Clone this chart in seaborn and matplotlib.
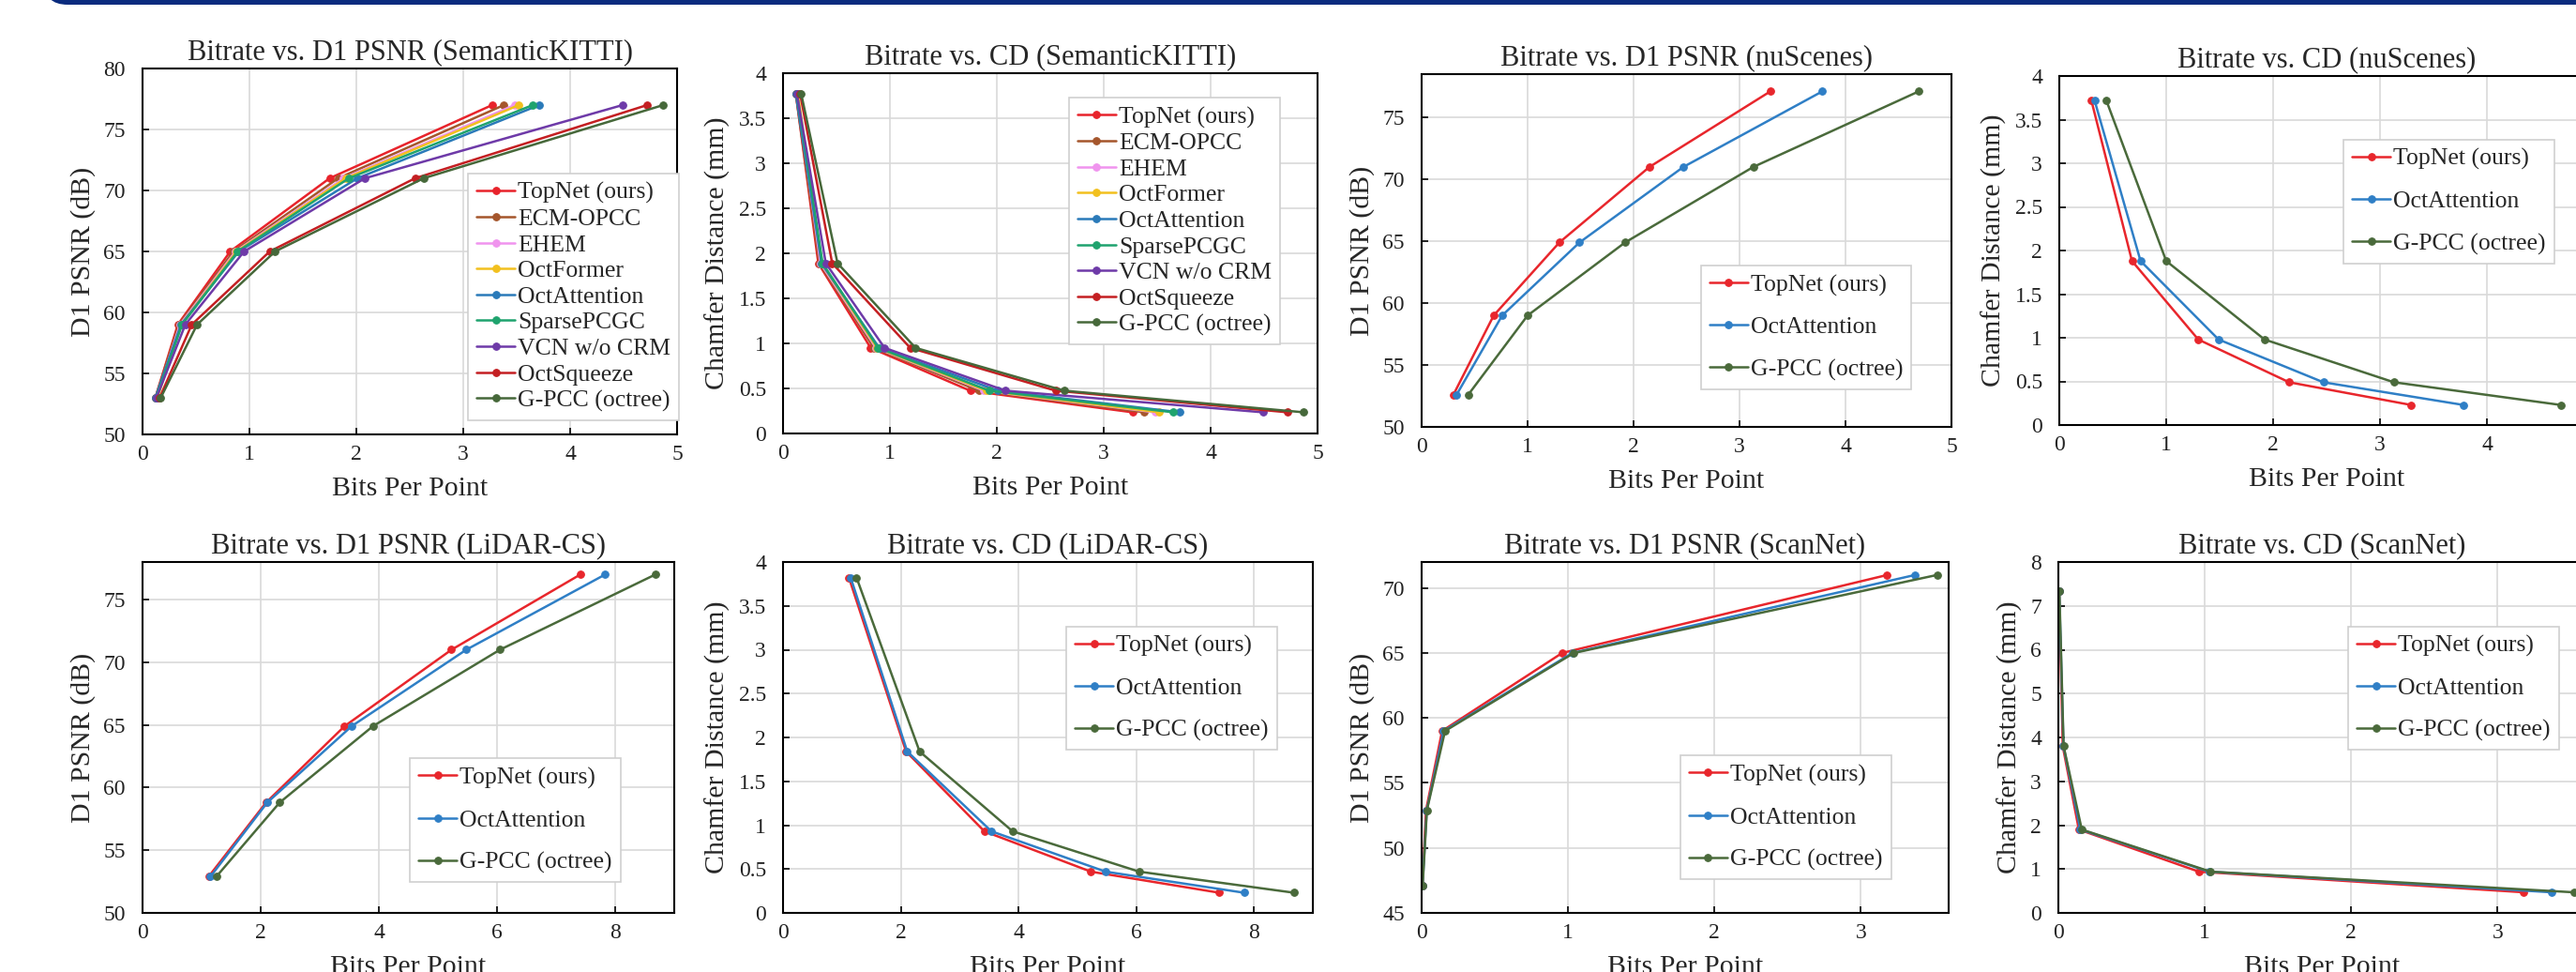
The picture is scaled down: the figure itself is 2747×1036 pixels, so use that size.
import seaborn as sns
import matplotlib.pyplot as plt
from matplotlib.patches import FancyBboxPatch
from matplotlib.transforms import IdentityTransform
from matplotlib.ticker import FuncFormatter

# ---------------- data ----------------
kitti_methods = ['TopNet (ours)', 'ECM-OPCC', 'EHEM', 'OctFormer', 'OctAttention',
                 'SparsePCGC', 'VCN w/o CRM', 'OctSqueeze', 'G-PCC (octree)']
kitti_psnr = [53, 59, 65, 71, 77]
kitti_cd = [3.77, 1.89, 0.95, 0.475, 0.235]
kitti_bpp_topnet = [0.12, 0.33, 0.82, 1.75, 3.27]
kitti_bpp_ecm = [0.12, 0.34, 0.85, 1.83, 3.38]
kitti_bpp_ehem = [0.13, 0.35, 0.87, 1.88, 3.48]
kitti_bpp_octformer = [0.14, 0.36, 0.88, 1.90, 3.52]
kitti_bpp_octattn = [0.12, 0.36, 0.90, 2.01, 3.71]
kitti_bpp_sparse = [0.13, 0.37, 0.89, 1.93, 3.65]
kitti_bpp_vcn = [0.13, 0.40, 0.95, 2.08, 4.49]
kitti_bpp_octsqueeze = [0.16, 0.46, 1.19, 2.55, 4.72]
kitti_bpp_gpcc = [0.17, 0.51, 1.24, 2.63, 4.87]

three_methods = ['TopNet (ours)', 'OctAttention', 'G-PCC (octree)']

nus_psnr = [52.6, 59.0, 64.9, 71.0, 77.1]
nus_cd = [3.72, 1.88, 0.98, 0.49, 0.23]
nus_bpp_topnet = [0.30, 0.68, 1.30, 2.15, 3.29]
nus_bpp_octattn = [0.33, 0.76, 1.49, 2.47, 3.78]
nus_bpp_gpcc = [0.44, 1.00, 1.92, 3.13, 4.69]

lcs_psnr = [52.9, 58.8, 64.9, 71.0, 77.0]
lcs_cd = [3.82, 1.84, 0.93, 0.47, 0.23]
lcs_bpp_topnet = [1.12, 2.09, 3.42, 5.23, 7.41]
lcs_bpp_octattn = [1.15, 2.11, 3.54, 5.48, 7.83]
lcs_bpp_gpcc = [1.25, 2.32, 3.90, 6.05, 8.68]

scan_psnr = [47.1, 52.9, 59.0, 65.0, 71.0]
scan_cd = [7.33, 3.80, 1.90, 0.94, 0.47]
scan_bpp_topnet = [0.005, 0.03, 0.14, 0.96, 3.18]
scan_bpp_octattn = [0.006, 0.035, 0.15, 1.03, 3.37]
scan_bpp_gpcc = [0.007, 0.036, 0.16, 1.04, 3.52]

# ---------------- styling ----------------
kitti_colors = ['#e8232b', '#a5562c', '#f094ee', '#f2c01e', '#2a7ab9',
                '#1fa36e', '#6e3aa8', '#c41f22', '#46683a']
three_colors = ['#e8262c', '#2f7fc6', '#4a6a3b']

sns.set_style('whitegrid', {'grid.color': '#d9d9d9', 'axes.edgecolor': 'black'})
plt.rcParams['font.family'] = ['Liberation Serif', 'DejaVu Serif']

W, H = 2747, 1036
fig = plt.figure(figsize=(W / 100, H / 100), dpi=100)

# top banner (bottom edge of a rounded box from the page)
fig.add_artist(FancyBboxPatch((47, H - 5), 2900, 200,
                              boxstyle='round,pad=0,rounding_size=25',
                              transform=IdentityTransform(),
                              fc='#0a2b7e', ec='none'))

fmt = FuncFormatter(lambda v, p: f'{v:g}')


def panel(box, title, ylabel, xlim, xticks, ylim, yticks, series, names, colors,
          leg_anchor, leg_spacing):
    l, r, t, b = box
    ax = fig.add_axes([l / W, 1 - b / H, (r - l) / W, (b - t) / H])
    for (xs, ys), name, c in zip(series, names, colors):
        sns.lineplot(x=xs, y=ys, ax=ax, color=c, marker='o', markersize=5.5,
                     markeredgecolor=c, linewidth=1.8, label=name, sort=False)
    ax.set_xlim(*xlim)
    ax.set_ylim(*ylim)
    ax.set_xticks(xticks)
    ax.set_yticks(yticks)
    ax.xaxis.set_major_formatter(fmt)
    ax.yaxis.set_major_formatter(fmt)
    ax.tick_params(direction='in', length=5, width=1.2, color='black',
                   labelsize=17, labelcolor='#222222')
    ax.tick_params(axis='x', pad=8, bottom=True)
    ax.tick_params(axis='y', pad=13, left=True)
    ax.grid(True, color='#d9d9d9', linewidth=1.2)
    for s in ax.spines.values():
        s.set_linewidth(1.5)
        s.set_color('black')
    ax.set_title(title, fontsize=22, pad=7)
    ax.set_xlabel('Bits Per Point', fontsize=21.5, labelpad=9)
    ax.set_ylabel(ylabel, fontsize=21.5, labelpad=6)
    h, lab = ax.get_legend_handles_labels()
    leg = ax.legend(h, lab, loc='upper left', bbox_to_anchor=leg_anchor,
                    fontsize=18.5, labelspacing=leg_spacing, handlelength=1.6,
                    handletextpad=0.12, borderpad=0.35, borderaxespad=0,
                    fancybox=False, framealpha=1, edgecolor='#cfcfcf')
    leg.get_frame().set_linewidth(1.2)
    return ax


kitti_bpp = [kitti_bpp_topnet, kitti_bpp_ecm, kitti_bpp_ehem, kitti_bpp_octformer,
             kitti_bpp_octattn, kitti_bpp_sparse, kitti_bpp_vcn,
             kitti_bpp_octsqueeze, kitti_bpp_gpcc]
nus_bpp = [nus_bpp_topnet, nus_bpp_octattn, nus_bpp_gpcc]
lcs_bpp = [lcs_bpp_topnet, lcs_bpp_octattn, lcs_bpp_gpcc]
scan_bpp = [scan_bpp_topnet, scan_bpp_octattn, scan_bpp_gpcc]

psnr_lab = 'D1 PSNR (dB)'
cd_lab = 'Chamfer Distance (mm)'
cd_ticks = [0, 0.5, 1, 1.5, 2, 2.5, 3, 3.5, 4]

panel((152, 722, 73, 463), 'Bitrate vs. D1 PSNR (SemanticKITTI)', psnr_lab,
      (0, 5), range(0, 6), (50, 80), range(50, 81, 5),
      [(x, kitti_psnr) for x in kitti_bpp], kitti_methods, kitti_colors,
      (0.609, 0.713), 0.18)
panel((835, 1405, 78, 462), 'Bitrate vs. CD (SemanticKITTI)', cd_lab,
      (0, 5), range(0, 6), (0, 4), cd_ticks,
      [(x, kitti_cd) for x in kitti_bpp], kitti_methods, kitti_colors,
      (0.535, 0.932), 0.18)
panel((1516, 2081, 79, 455), 'Bitrate vs. D1 PSNR (nuScenes)', psnr_lab,
      (0, 5), range(0, 6), (50, 78.5), range(50, 76, 5),
      [(x, nus_psnr) for x in nus_bpp], three_methods, three_colors,
      (0.527, 0.457), 0.85)
panel((2196, 2766, 81, 453), 'Bitrate vs. CD (nuScenes)', cd_lab,
      (0, 5), range(0, 6), (0, 4), cd_ticks,
      [(x, nus_cd) for x in nus_bpp], three_methods, three_colors,
      (0.532, 0.817), 0.85)
panel((152, 719, 599, 973), 'Bitrate vs. D1 PSNR (LiDAR-CS)', psnr_lab,
      (0, 9), range(0, 10, 2), (50, 78), range(50, 76, 5),
      [(x, lcs_psnr) for x in lcs_bpp], three_methods, three_colors,
      (0.503, 0.44), 0.85)
panel((835, 1400, 599, 973), 'Bitrate vs. CD (LiDAR-CS)', cd_lab,
      (0, 9), range(0, 10, 2), (0, 4), cd_ticks,
      [(x, lcs_cd) for x in lcs_bpp], three_methods, three_colors,
      (0.535, 0.816), 0.85)
panel((1516, 2078, 599, 973), 'Bitrate vs. D1 PSNR (ScanNet)', psnr_lab,
      (0, 3.6), range(0, 4), (45, 72), range(45, 71, 5),
      [(x, scan_psnr) for x in scan_bpp], three_methods, three_colors,
      (0.491, 0.448), 0.85)
panel((2195, 2757, 599, 973), 'Bitrate vs. CD (ScanNet)', cd_lab,
      (0, 3.6), range(0, 4), (0, 8), range(0, 9),
      [(x, scan_cd) for x in scan_bpp], three_methods, three_colors,
      (0.55, 0.816), 0.85)

fig.savefig('out.png', dpi=100)
